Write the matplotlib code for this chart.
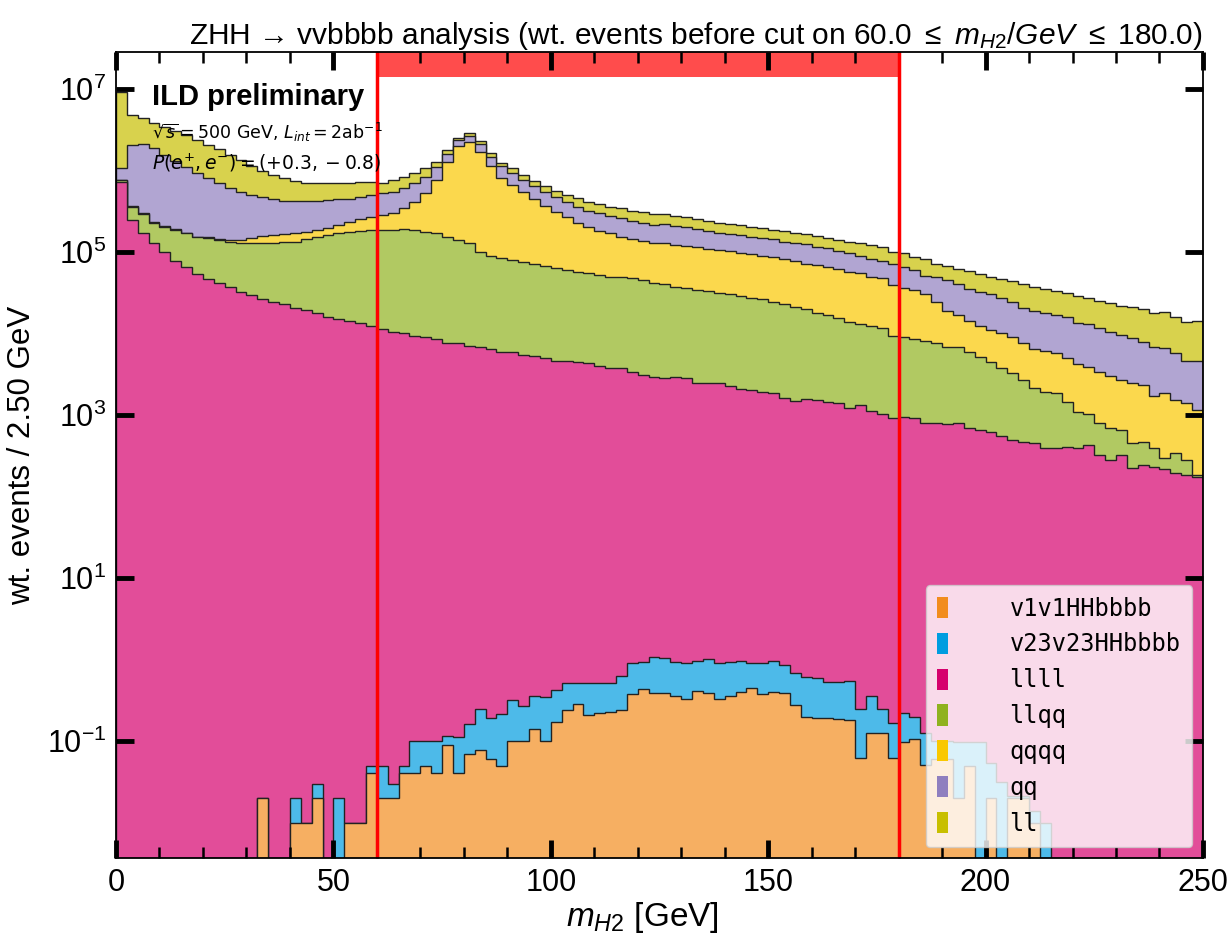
import numpy as np
import matplotlib
matplotlib.use("Agg")
import matplotlib.pyplot as plt
from matplotlib import ticker
from matplotlib.colors import to_rgb
from matplotlib.patches import Patch

plt.rcParams['font.family'] = ['Liberation Sans', 'DejaVu Sans']
plt.rcParams['mathtext.fontset'] = 'custom'
plt.rcParams['mathtext.rm'] = 'Liberation Sans'
plt.rcParams['mathtext.it'] = 'Liberation Sans:italic'
plt.rcParams['mathtext.bf'] = 'Liberation Sans:bold'

# 100 bins of 2.5 GeV
bin_edges = np.linspace(0, 250, 101)

samples = ['v1v1HHbbbb', 'v23v23HHbbbb', 'llll', 'llqq', 'qqqq', 'qq', 'll']
sample_colors = ['#f28c1e', '#009de0', '#d6006d', '#8fb21f', '#f9c800', '#8f7fbf', '#c8bf00']

# stacked level per bin (this sample + everything below it)
v1v1_level = [0, 0, 0, 0, 0, 0, 0, 0, 0, 0,
              0, 0, 0, 0.020, 0, 0, 0.0098, 0.0098, 0.020, 0,
              0, 0.0098, 0.0098, 0.041, 0.020, 0.020, 0.041, 0.041, 0.049, 0.041,
              0.089, 0.041, 0.069, 0.079, 0.060, 0.049, 0.100, 0.100, 0.141, 0.100,
              0.170, 0.245, 0.288, 0.209, 0.219, 0.229, 0.245, 0.380, 0.437, 0.389,
              0.389, 0.363, 0.331, 0.417, 0.389, 0.331, 0.363, 0.407, 0.447, 0.380,
              0.407, 0.389, 0.275, 0.200, 0.191, 0.195, 0.186, 0.182, 0.062, 0.126,
              0.126, 0.062, 0.098, 0.107, 0.051, 0.060, 0.060, 0.020, 0.050, 0,
              0.020, 0, 0.020, 0.020, 0.010, 0, 0, 0, 0, 0,
              0, 0, 0, 0, 0, 0, 0, 0, 0, 0]
v23v23_level = [0, 0, 0, 0, 0, 0, 0, 0, 0, 0,
                0, 0, 0, 0.020, 0, 0, 0.020, 0.0098, 0.030, 0,
                0.020, 0.0098, 0.0098, 0.049, 0.049, 0.030, 0.049, 0.100, 0.100, 0.100,
                0.117, 0.112, 0.162, 0.251, 0.191, 0.214, 0.316, 0.269, 0.355, 0.347,
                0.427, 0.525, 0.525, 0.513, 0.513, 0.525, 0.631, 0.912, 0.933, 1.07,
                1.05, 0.933, 0.912, 0.977, 1.02, 0.912, 0.933, 0.977, 0.912, 0.912,
                0.977, 0.851, 0.692, 0.617, 0.589, 0.537, 0.537, 0.550, 0.251, 0.355,
                0.251, 0.166, 0.224, 0.200, 0.126, 0.102, 0.102, 0.098, 0.098, 0.098,
                0.054, 0.032, 0.021, 0.021, 0.014, 0.010, 0, 0, 0, 0,
                0, 0, 0, 0, 0, 0, 0, 0, 0, 0]

# the big backgrounds, as log10 of the stacked level
llll_log = [5.86, 5.39, 5.23, 5.11, 5.00, 4.89, 4.82, 4.73, 4.67, 4.62,
            4.57, 4.51, 4.47, 4.42, 4.39, 4.36, 4.31, 4.29, 4.25, 4.21,
            4.18, 4.15, 4.13, 4.09, 4.06, 4.02, 4.01, 3.97, 3.96, 3.93,
            3.89, 3.88, 3.85, 3.84, 3.81, 3.78, 3.77, 3.74, 3.73, 3.70,
            3.67, 3.66, 3.65, 3.64, 3.60, 3.58, 3.58, 3.53, 3.49, 3.47,
            3.45, 3.47, 3.45, 3.39, 3.39, 3.39, 3.36, 3.32, 3.31, 3.28,
            3.27, 3.21, 3.17, 3.20, 3.18, 3.16, 3.15, 3.09, 3.12, 3.05,
            3.02, 2.96, 2.98, 2.96, 2.90, 2.90, 2.89, 2.90, 2.84, 2.82,
            2.79, 2.75, 2.69, 2.67, 2.66, 2.60, 2.60, 2.61, 2.60, 2.63,
            2.51, 2.45, 2.51, 2.35, 2.39, 2.36, 2.34, 2.29, 2.26, 2.24]
llqq_log = [5.88, 5.55, 5.47, 5.36, 5.31, 5.27, 5.23, 5.18, 5.17, 5.15,
            5.12, 5.11, 5.11, 5.11, 5.11, 5.12, 5.13, 5.16, 5.18, 5.21,
            5.23, 5.25, 5.26, 5.27, 5.27, 5.27, 5.28, 5.27, 5.25, 5.23,
            5.18, 5.15, 5.11, 5.00, 4.95, 4.93, 4.90, 4.88, 4.85, 4.83,
            4.80, 4.78, 4.75, 4.74, 4.72, 4.69, 4.69, 4.68, 4.66, 4.62,
            4.61, 4.57, 4.56, 4.53, 4.52, 4.50, 4.48, 4.46, 4.44, 4.42,
            4.39, 4.36, 4.33, 4.30, 4.25, 4.23, 4.19, 4.14, 4.12, 4.09,
            4.07, 3.97, 3.96, 3.94, 3.91, 3.88, 3.83, 3.83, 3.77, 3.71,
            3.65, 3.58, 3.52, 3.43, 3.33, 3.28, 3.27, 3.16, 3.04, 3.02,
            2.90, 2.84, 2.82, 2.66, 2.67, 2.60, 2.47, 2.53, 2.45, 2.26]
qqqq_log = [5.89, 5.56, 5.48, 5.37, 5.32, 5.28, 5.24, 5.19, 5.18, 5.16,
            5.15, 5.15, 5.17, 5.20, 5.21, 5.22, 5.23, 5.25, 5.27, 5.29,
            5.33, 5.37, 5.40, 5.43, 5.45, 5.48, 5.54, 5.61, 5.72, 5.89,
            6.10, 6.30, 6.35, 6.23, 6.06, 5.91, 5.82, 5.74, 5.65, 5.56,
            5.49, 5.43, 5.36, 5.31, 5.26, 5.23, 5.18, 5.16, 5.14, 5.11,
            5.11, 5.09, 5.07, 5.06, 5.04, 5.02, 5.01, 4.99, 4.98, 4.95,
            4.94, 4.91, 4.89, 4.86, 4.84, 4.82, 4.79, 4.76, 4.74, 4.69,
            4.68, 4.60, 4.56, 4.53, 4.49, 4.39, 4.28, 4.23, 4.15, 4.09,
            4.05, 4.01, 3.96, 3.88, 3.81, 3.79, 3.76, 3.70, 3.63, 3.59,
            3.53, 3.48, 3.43, 3.39, 3.37, 3.23, 3.27, 3.18, 3.15, 3.06]
qq_log = [6.03, 6.31, 6.33, 6.28, 6.19, 6.12, 6.04, 5.97, 5.91, 5.85,
          5.79, 5.74, 5.70, 5.67, 5.65, 5.63, 5.63, 5.63, 5.63, 5.64,
          5.65, 5.65, 5.67, 5.70, 5.72, 5.74, 5.79, 5.85, 5.92, 6.04,
          6.20, 6.37, 6.42, 6.33, 6.17, 6.06, 5.97, 5.89, 5.81, 5.74,
          5.67, 5.61, 5.55, 5.51, 5.48, 5.44, 5.42, 5.38, 5.36, 5.33,
          5.34, 5.32, 5.31, 5.28, 5.26, 5.23, 5.22, 5.21, 5.18, 5.17,
          5.16, 5.13, 5.11, 5.10, 5.06, 5.05, 5.01, 4.99, 4.95, 4.91,
          4.89, 4.85, 4.82, 4.78, 4.71, 4.69, 4.66, 4.61, 4.55, 4.51,
          4.48, 4.44, 4.39, 4.32, 4.28, 4.25, 4.23, 4.20, 4.13, 4.12,
          4.07, 4.02, 3.98, 3.95, 3.90, 3.83, 3.82, 3.76, 3.67, 3.67]
ll_log = [6.96, 6.68, 6.64, 6.58, 6.53, 6.48, 6.44, 6.37, 6.31, 6.26,
          6.19, 6.13, 6.06, 5.99, 5.94, 5.91, 5.87, 5.85, 5.85, 5.85,
          5.85, 5.85, 5.86, 5.86, 5.85, 5.89, 5.92, 5.97, 6.03, 6.10,
          6.25, 6.40, 6.46, 6.36, 6.21, 6.09, 6.03, 5.94, 5.87, 5.81,
          5.75, 5.70, 5.66, 5.61, 5.59, 5.55, 5.54, 5.51, 5.49, 5.47,
          5.47, 5.44, 5.43, 5.40, 5.38, 5.36, 5.34, 5.33, 5.31, 5.29,
          5.27, 5.26, 5.23, 5.22, 5.20, 5.17, 5.15, 5.12, 5.11, 5.09,
          5.06, 5.00, 4.99, 4.94, 4.91, 4.86, 4.83, 4.79, 4.77, 4.73,
          4.69, 4.67, 4.64, 4.61, 4.57, 4.55, 4.52, 4.50, 4.46, 4.44,
          4.40, 4.37, 4.34, 4.33, 4.30, 4.25, 4.26, 4.20, 4.14, 4.15]

levels = [np.array(v1v1_level), np.array(v23v23_level),
          10 ** np.array(llll_log), 10 ** np.array(llqq_log),
          10 ** np.array(qqqq_log), 10 ** np.array(qq_log), 10 ** np.array(ll_log)]

fig = plt.figure(figsize=(12.3, 9.35), dpi=100)
ax = fig.add_axes([0.0943, 0.0824, 0.8837, 0.862])
ax.set_yscale('log')

# draw the top of the stack first, lower samples painted over it
for lev, col in reversed(list(zip(levels, sample_colors))):
    face = 0.7 * np.array(to_rgb(col)) + 0.3
    ax.stairs(lev, bin_edges, baseline=1e-4, fill=True, facecolor=face,
              edgecolor='#222222', linewidth=1.0)

# cut window
ax.axvspan(60, 180, ymin=0.969, ymax=1.0, color='red', alpha=0.7, lw=0)
ax.axvline(60, color='red', lw=2.5)
ax.axvline(180, color='red', lw=2.5)

ax.set_xlim(0, 250)
ax.set_ylim(3.7e-3, 2.85e7)

ax.xaxis.set_major_locator(ticker.MultipleLocator(50))
ax.xaxis.set_minor_locator(ticker.MultipleLocator(10))
ax.yaxis.set_major_locator(ticker.FixedLocator([1e-1, 1e1, 1e3, 1e5, 1e7]))
ax.yaxis.set_major_formatter(ticker.LogFormatterSciNotation())
ax.yaxis.set_minor_locator(ticker.NullLocator())
ax.tick_params(which='major', direction='in', length=13, width=3.5,
               top=True, right=True, labelsize=22, pad=7)
ax.tick_params(which='minor', direction='in', length=8, width=1.8,
               top=True, right=True)
for sp in ax.spines.values():
    sp.set_linewidth(1.3)

ax.set_xlabel(r'$m_{H2}$ [GeV]', fontsize=24, labelpad=2, x=0.484)
ax.set_ylabel('wt. events / 2.50 GeV', fontsize=22.5, labelpad=7)
ax.set_title(r'ZHH → vvbbbb analysis (wt. events before cut on $60.0\ \leq\ m_{H2}/GeV\ \leq\ 180.0$)',
             loc='right', fontsize=21.5, pad=6)

ax.text(0.033, 0.944, 'ILD preliminary', transform=ax.transAxes,
        fontsize=21, fontweight='bold', va='center')
ax.text(0.033, 0.900, r'$\sqrt{s} = 500$ GeV, $L_{int} = 2\mathrm{ab}^{-1}$',
        transform=ax.transAxes, fontsize=12.5, va='center',
        family='DejaVu Sans', math_fontfamily='dejavusans')
ax.text(0.033, 0.862, r'$P(e^{+}, e^{-}) = (+0.3, -0.8)$',
        transform=ax.transAxes, fontsize=13.5, va='center',
        family='DejaVu Sans', math_fontfamily='dejavusans')

handles = [Patch(facecolor=c, edgecolor='none') for c in sample_colors]
ax.legend(handles, samples, loc='lower right',
          prop={'family': 'DejaVu Sans Mono', 'size': 17},
          handlelength=0.45, handleheight=1.0, handletextpad=2.6,
          labelspacing=0.5, borderpad=0.5, borderaxespad=0.45, framealpha=0.8)

fig.savefig('out.png', dpi=100)
